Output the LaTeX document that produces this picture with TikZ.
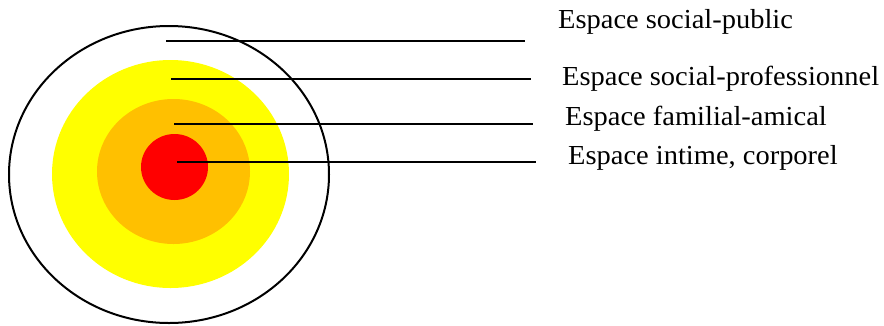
\documentclass[tikz,border=0pt]{standalone}
\usepackage{graphicx}
\usepackage{fontspec}
\setmainfont{Liberation Serif}
\definecolor{zyellow}{HTML}{FFFF00}
\definecolor{zorange}{HTML}{FFC000}
\definecolor{zred}{HTML}{FF0000}
\newcommand{\wtxt}[1]{\scalebox{1.035}[1]{#1}}
\begin{document}
\begin{tikzpicture}[x=1pt,y=-1pt,
  lbl/.style={anchor=base west,inner sep=0pt,font=\fontsize{27.5}{30}\selectfont},
  leader/.style={draw=black,line width=2pt}]
\useasboundingbox (0,0) rectangle (884,325);
\fill[zyellow] (170.5,174) ellipse [x radius=118.5,y radius=114];
\fill[zorange] (173.5,171.5) ellipse [x radius=76.5,y radius=72.5];
\fill[zred] (174.5,167) ellipse [x radius=33.5,y radius=33];
\draw[line width=2pt] (169,174.5) ellipse [x radius=160,y radius=148.5];
\node[lbl] (t1) at (558,28.3) {\wtxt{Espace social-public}};
\node[lbl] (t2) at (562,85) {\wtxt{Espace social-professionnel}};
\node[lbl] (t3) at (565,125) {\wtxt{Espace familial-amical}};
\node[lbl] (t4) at (568,164) {\wtxt{Espace intime, corporel}};
\coordinate (s1) at (166,40.5);
\coordinate (e1) at (525,40.5);
\coordinate (s2) at (171,78.5);
\coordinate (e2) at (531,78.5);
\coordinate (s3) at (174,123.5);
\coordinate (e3) at (533,123.5);
\coordinate (s4) at (177,161.5);
\coordinate (e4) at (536,161.5);
\draw[leader] (s1) -- (e1);
\draw[leader] (s2) -- (e2);
\draw[leader] (s3) -- (e3);
\draw[leader] (s4) -- (e4);
\end{tikzpicture}
\end{document}
